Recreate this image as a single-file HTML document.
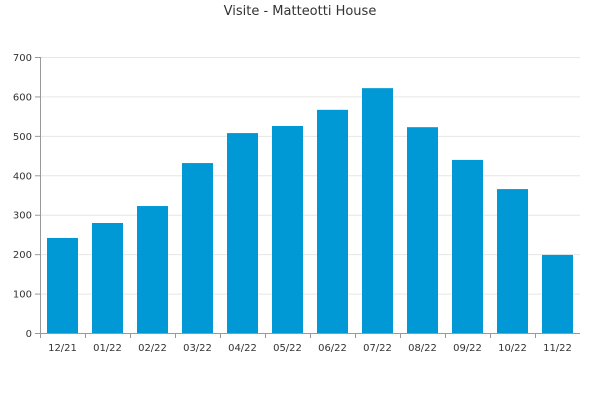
<!DOCTYPE html>
<html><head><meta charset="utf-8"><style>
body{margin:0;background:#fff;}
svg text{font-family:"DejaVu Sans","Liberation Sans",sans-serif;}
</style></head><body>
<svg width="600" height="400" xmlns="http://www.w3.org/2000/svg">
<rect width="600" height="400" fill="#fff"/>
<text x="300" y="15" text-anchor="middle" font-size="13" fill="#333">Visite - Matteotti House</text>
<g id="grid"></g><g id="bars"></g><g id="axes"></g>
</svg>
<script>
const categories=["12/21","01/22","02/22","03/22","04/22","05/22","06/22","07/22","08/22","09/22","10/22","11/22"];
const visits=[241,279,322,431,507,525,566,621,522,439,365,198];
const yTicks=[0,100,200,300,400,500,600,700];
const L=40,R=580,T=57,B=333,yMax=700;
const y=v=>B-(v/yMax)*(B-T);
const band=(R-L)/categories.length;
const x=i=>L+band*i;
const ns="http://www.w3.org/2000/svg";
const mk=(t,a,p)=>{const e=document.createElementNS(ns,t);for(const k in a)e.setAttribute(k,a[k]);p.appendChild(e);return e;};
const g=document.getElementById('grid'),bg=document.getElementById('bars'),ax=document.getElementById('axes');
yTicks.forEach(v=>{
 const l=mk('line',{x1:L,x2:R,y1:y(v)+0.5,y2:y(v)+0.5,stroke:v===0?'#999':'#e6e6e6'},g);
 
 
 const tk=mk('line',{x1:L-5,x2:L,y1:y(v)+0.5,y2:y(v)+0.5,stroke:'#999'},ax);
 
 
 const t=mk('text',{x:L-8,y:y(v)+4,'text-anchor':'end','font-size':'10',fill:'#333'},ax);
 t.textContent=v;
 
 
});
const bw=31;
categories.forEach((c,i)=>{
 const cx=x(i)+band/2;
 const r=mk('rect',{x:cx-bw/2,y:y(visits[i]),width:bw,height:B-y(visits[i]),fill:'#0099d6'},bg);
 
 
 const t=mk('text',{x:cx,y:B+18,'text-anchor':'middle','font-size':'10',fill:'#333'},ax);
 t.textContent=c;
 
 
 const tk=mk('line',{x1:x(i)+0.5,x2:x(i)+0.5,y1:B,y2:B+5,stroke:'#999'},ax);
 
 
});
const ya=mk('line',{x1:L+0.5,x2:L+0.5,y1:T,y2:B,stroke:'#999'},ax);


const xa=mk('line',{x1:L,x2:R,y1:B+0.5,y2:B+0.5,stroke:'#999'},ax);


</script>
</body></html>
